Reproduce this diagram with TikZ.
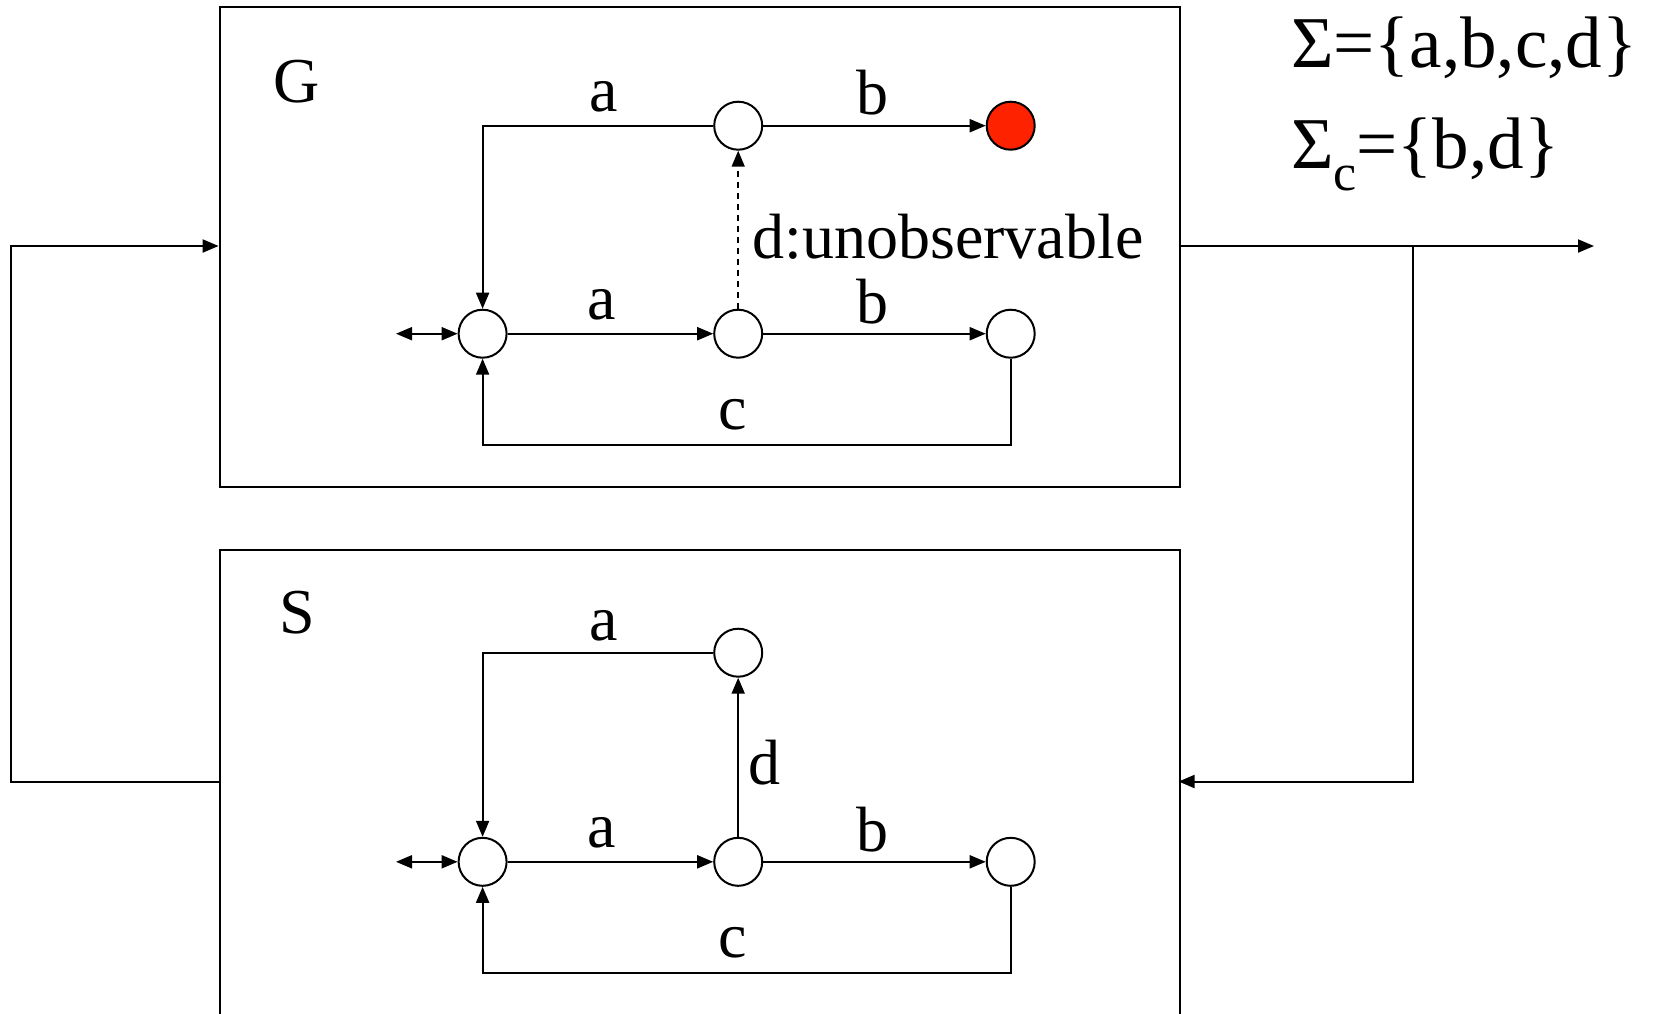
\documentclass[tikz,border=0pt]{standalone}
\usepackage{fontspec}
\setmainfont{Liberation Serif}
\usetikzlibrary{arrows.meta}
\definecolor{finred}{RGB}{255,34,0}
\begin{document}
\begin{tikzpicture}[x=1pt,y=-1pt,line width=2pt,
  st/.style={circle,draw,fill=white,minimum size=48pt,inner sep=0pt},
  fin/.style={st,fill=finred},
  tip/.tip={Triangle[length=16pt,width=13pt]},
  arr/.style={-tip},
  dbl/.style={tip-tip},
  lbl/.style={font=\fontsize{64}{70}\selectfont,inner sep=0pt},
  sig/.style={font=\fontsize{73}{80}\selectfont,inner sep=0pt,anchor=west},
  box/.style={draw,anchor=north west,inner sep=0pt,minimum width=960pt}]
\useasboundingbox (0,0) rectangle (1656,1013);
\fill[white] (0,0) rectangle (1656,1013);
\clip (0,0) rectangle (1656,1013);
% boxes
\node[box,minimum height=479.5pt] (G) at (218.6,6.3) {};
\node[box,minimum height=500pt] (S) at (218.6,549.2) {};
\node[lbl] (Gl) at (297,82) {G};
\node[lbl] (Sl) at (297,612.5) {S};
% outer connections
\coordinate (outE) at (1594,246);
\coordinate (br) at (1413,246);
\coordinate (brD) at (1413,781.5);
\coordinate (sIn) at (1178.6,781.5);
\coordinate (sOut) at (218.6,781.5);
\coordinate (fbB) at (11,781.5);
\coordinate (fbT) at (11,246);
\coordinate (gIn) at (218.6,246);
\coordinate (gOut) at (1178.6,246);
\draw[arr] (gOut) -- (outE);
\draw[arr] (br) -- (brD) -- (sIn);
\draw[arr] (sOut) -- (fbB) -- (fbT) -- (gIn);
% G automaton
\node[st] (g0) at (482.6,333.7) {};
\node[st] (g1) at (738.2,333.7) {};
\node[st] (g2) at (1010.7,333.7) {};
\node[st] (g3) at (738.2,125.7) {};
\node[fin] (g4) at (1010.7,125.7) {};
\coordinate (gi) at (396,333.7);
\coordinate (gc) at (1010.7,444.6);
\draw[dbl] (gi) -- (g0);
\draw[arr] (g0) -- (g1);
\draw[arr] (g1) -- (g2);
\draw[arr] (g3) -- (g4);
\draw[arr] (g3.west) -| (g0.north);
\draw[arr] (g2.south) -- (gc) -| (g0.south);
\draw[arr,line width=1.5pt,dash pattern=on 6pt off 5pt] (g1.north) -- (g3.south);
\node[lbl] (la1) at (604,97) {a};
\node[lbl] (lb1) at (872,93) {b};
\node[lbl] (la2) at (602,305) {a};
\node[lbl] (lb2) at (872,302) {b};
\node[lbl] (lc1) at (733,415) {c};
\node[lbl] (ld1) at (948,237) {d:unobservable};
% S automaton
\node[st] (s0) at (482.6,861.8) {};
\node[st] (s1) at (738.2,861.8) {};
\node[st] (s2) at (1010.7,861.8) {};
\node[st] (s3) at (738.2,652.7) {};
\coordinate (si) at (396,861.8);
\coordinate (sc) at (1010.7,972.7);
\draw[dbl] (si) -- (s0);
\draw[arr] (s0) -- (s1);
\draw[arr] (s1) -- (s2);
\draw[arr] (s1) -- (s3);
\draw[arr] (s3.west) -| (s0.north);
\draw[arr] (s2.south) -- (sc) -| (s0.south);
\node[lbl] (la3) at (604,626) {a};
\node[lbl] (ld2) at (764,762.5) {d};
\node[lbl] (la4) at (602,833) {a};
\node[lbl] (lb4) at (872,830) {b};
\node[lbl] (lc2) at (733,943) {c};
% alphabets
\node[sig] (sig1) at (1290,48) {Σ=\{a,b,c,d\}};
\node[sig] (sig2) at (1290,154) {Σ\raisebox{-0.3em}{\fontsize{52}{56}\selectfont c}=\{b,d\}};
\end{tikzpicture}
\end{document}
